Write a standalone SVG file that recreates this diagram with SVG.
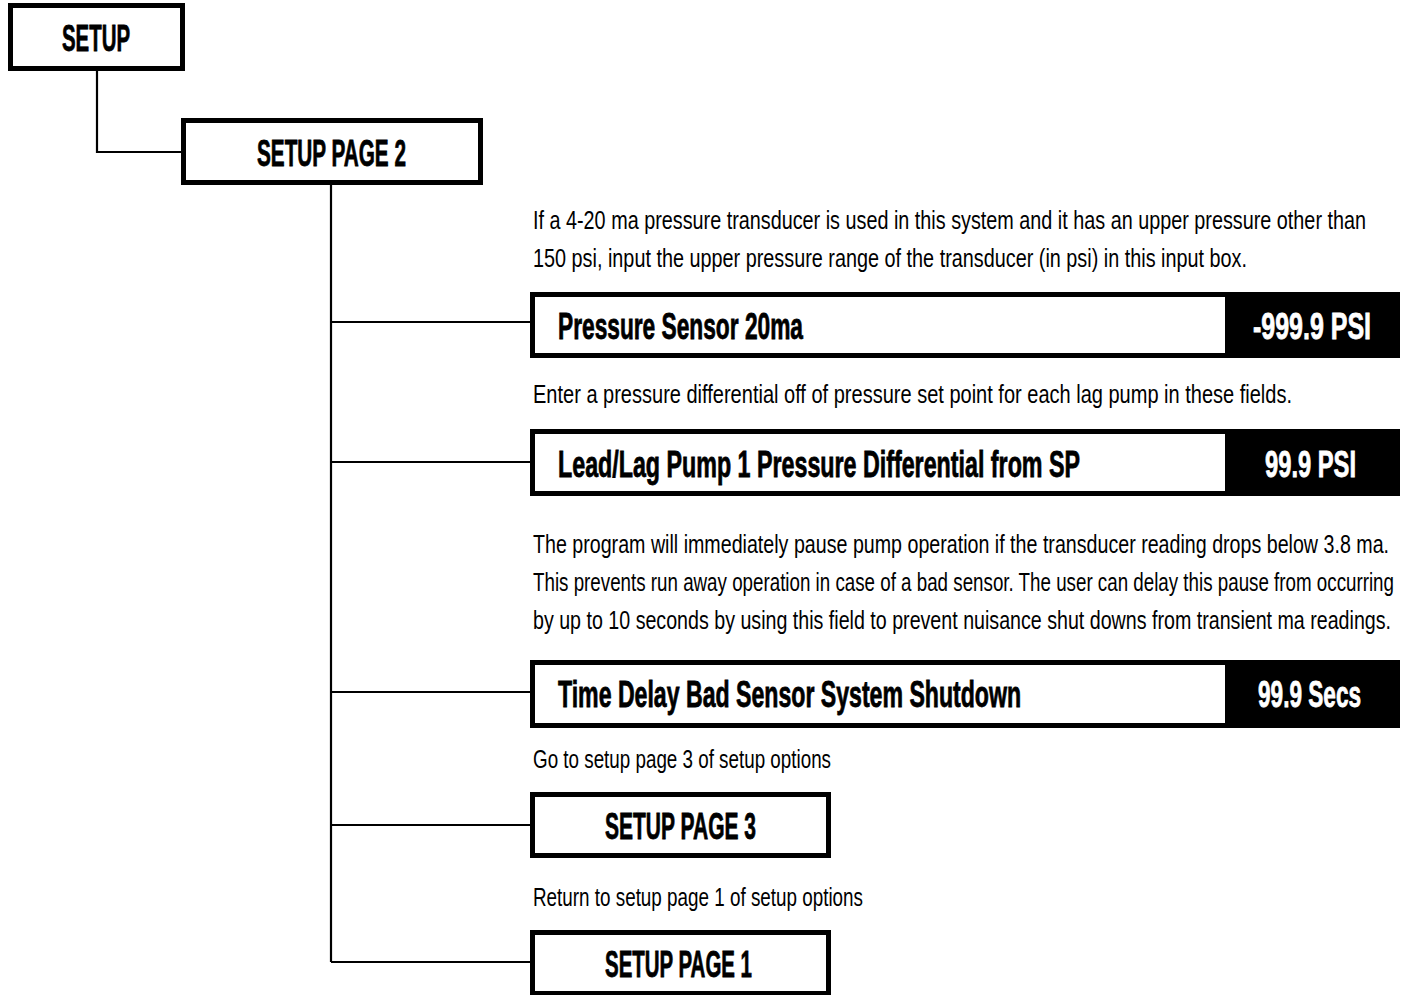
<svg xmlns="http://www.w3.org/2000/svg" width="1409" height="995" viewBox="0 0 1409 995">
<style>
.box{fill:#fff;stroke:#000;stroke-width:5}
.blk{fill:#000}
.ins{fill:#fff}
.conn{fill:none;stroke:#000;stroke-width:2.2}
.h{font-family:"Liberation Sans",Arial,sans-serif;font-weight:bold;font-size:37px;fill:#000;stroke:#000;stroke-width:0.8}
.hv{font-family:"Liberation Sans",Arial,sans-serif;font-weight:bold;font-size:37px;fill:#fff;stroke:#fff;stroke-width:0.8}
.t{font-family:"Liberation Sans",Arial,sans-serif;font-size:25px;fill:#000}
</style>
<rect width="1409" height="995" fill="#fff"/>
<g id="connectors">
<path class="conn" d="M97,71 V152 H181"/>
<path class="conn" d="M331,185 V962"/>
<path class="conn" d="M331,322 H530"/>
<path class="conn" d="M331,462 H530"/>
<path class="conn" d="M331,692 H530"/>
<path class="conn" d="M331,825 H530"/>
<path class="conn" d="M331,962 H530"/>
</g>
<g id="setup">
<rect class="box" x="10.5" y="5.5" width="172" height="63"/>
<text class="h" transform="translate(62,51) scale(0.6,1)" textLength="113.3" lengthAdjust="spacingAndGlyphs">SETUP</text>
</g>
<g id="setup-page-2">
<rect class="box" x="183.5" y="120.5" width="297" height="62"/>
<text class="h" transform="translate(257,166) scale(0.6,1)" textLength="248.3" lengthAdjust="spacingAndGlyphs">SETUP PAGE 2</text>
</g>
<g id="desc-1">
<text class="t" transform="translate(533,229) scale(0.74,1)" textLength="1125.7" lengthAdjust="spacingAndGlyphs">If a 4-20 ma pressure transducer is used in this system and it has an upper pressure other than</text>
<text class="t" transform="translate(533,267) scale(0.74,1)" textLength="964.9" lengthAdjust="spacingAndGlyphs">150 psi, input the upper pressure range of the transducer (in psi) in this input box.</text>
</g>
<g id="pressure-sensor">
<rect class="blk" x="530" y="292" width="870" height="66"/>
<rect class="ins" x="535" y="297" width="690" height="56"/>
<text class="h" transform="translate(558,339) scale(0.6,1)" textLength="408.3" lengthAdjust="spacingAndGlyphs">Pressure Sensor 20ma</text>
<text class="hv" transform="translate(1253,339) scale(0.6,1)" textLength="196.7" lengthAdjust="spacingAndGlyphs">-999.9 PSI</text>
</g>
<g id="desc-2">
<text class="t" transform="translate(533,403) scale(0.74,1)" textLength="1025.7" lengthAdjust="spacingAndGlyphs">Enter a pressure differential off of pressure set point for each lag pump in these fields.</text>
</g>
<g id="lead-lag">
<rect class="blk" x="530" y="429" width="870" height="67"/>
<rect class="ins" x="535" y="434" width="690" height="57"/>
<text class="h" transform="translate(558,477) scale(0.6,1)" textLength="870" lengthAdjust="spacingAndGlyphs">Lead/Lag Pump 1 Pressure Differential from SP</text>
<text class="hv" transform="translate(1265,477) scale(0.6,1)" textLength="151.7" lengthAdjust="spacingAndGlyphs">99.9 PSI</text>
</g>
<g id="desc-3">
<text class="t" transform="translate(533,553) scale(0.74,1)" textLength="1156.8" lengthAdjust="spacingAndGlyphs">The program will immediately pause pump operation if the transducer reading drops below 3.8 ma.</text>
<text class="t" transform="translate(533,591) scale(0.74,1)" textLength="1163.5" lengthAdjust="spacingAndGlyphs">This prevents run away operation in case of a bad sensor. The user can delay this pause from occurring</text>
<text class="t" transform="translate(533,629) scale(0.74,1)" textLength="1159.5" lengthAdjust="spacingAndGlyphs">by up to 10 seconds by using this field to prevent nuisance shut downs from transient ma readings.</text>
</g>
<g id="time-delay">
<rect class="blk" x="530" y="660" width="870" height="68"/>
<rect class="ins" x="535" y="665" width="690" height="58"/>
<text class="h" transform="translate(558,707) scale(0.6,1)" textLength="771.7" lengthAdjust="spacingAndGlyphs">Time Delay Bad Sensor System Shutdown</text>
<text class="hv" transform="translate(1258,707) scale(0.6,1)" textLength="171.7" lengthAdjust="spacingAndGlyphs">99.9 Secs</text>
</g>
<g id="desc-4">
<text class="t" transform="translate(533,768) scale(0.74,1)" textLength="402.7" lengthAdjust="spacingAndGlyphs">Go to setup page 3 of setup options</text>
</g>
<g id="setup-page-3">
<rect class="box" x="532.5" y="794.5" width="296" height="61"/>
<text class="h" transform="translate(605,839) scale(0.6,1)" textLength="251.7" lengthAdjust="spacingAndGlyphs">SETUP PAGE 3</text>
</g>
<g id="desc-5">
<text class="t" transform="translate(533,906) scale(0.74,1)" textLength="445.9" lengthAdjust="spacingAndGlyphs">Return to setup page 1 of setup options</text>
</g>
<g id="setup-page-1">
<rect class="box" x="532.5" y="932.5" width="296" height="61"/>
<text class="h" transform="translate(605,977) scale(0.6,1)" textLength="245" lengthAdjust="spacingAndGlyphs">SETUP PAGE 1</text>
</g>
</svg>
